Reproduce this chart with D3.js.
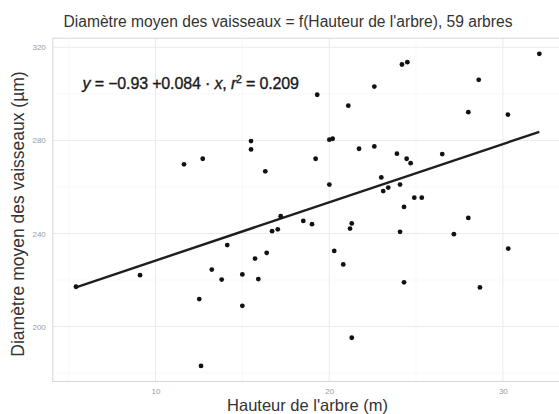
<!DOCTYPE html>
<html><head><meta charset="utf-8">
<script src="https://cdn.jsdelivr.net/npm/d3@7"></script>
<style>body{margin:0;background:#fff;font-family:"Liberation Sans",Arial,sans-serif}</style>
</head><body>
<svg id="chart" width="559" height="414"></svg>
<script>
const hauteur = [11.64,12.72,15.50,15.50,16.32,19.31,21.10,22.60,24.19,24.50,28.61,32.10,28.01,30.29,20.01,20.20,19.22,21.72,22.60,23.90,24.46,24.69,26.51,23.00,20.01,24.08,23.40,23.11,24.90,25.33,24.31,18.51,19.01,21.30,21.20,24.08,27.18,28.01,20.29,20.81,30.31,24.31,28.68,21.30,5.42,9.11,12.52,13.24,13.81,14.13,15.00,15.00,15.73,15.92,16.40,16.71,17.04,17.21,12.62];
const diametre = [269.7,272.1,279.7,276.1,266.7,299.6,294.9,303.1,312.6,313.6,306.0,317.2,292.1,291.1,280.3,280.7,272.1,276.4,277.4,274.3,272.1,270.2,274.1,264.1,261.0,261.0,259.7,258.2,255.4,255.4,251.4,245.4,244.0,244.3,242.1,240.7,239.7,246.7,232.5,226.7,233.5,219.0,216.8,195.2,217.1,222.1,211.8,224.5,220.2,235.0,222.4,208.9,229.2,220.4,231.7,241.0,241.8,247.4,183.1];
const fitCoef = [203.3, 2.504]; // intercept, slope (µm, µm/m)
const xTicks = [10, 20, 30];
const yTicks = [200, 240, 280, 320];
const titleText = "Diamètre moyen des vaisseaux = f(Hauteur de l'arbre), 59 arbres";
const xLabel = "Hauteur de l'arbre (m)";
const yLabel = "Diamètre moyen des vaisseaux (µm)";

const svg = d3.select("#chart");
const P = {l:52.8, r:562.5, t:38.2, b:381.5};
const xe = d3.extent(hauteur), ye = d3.extent(diametre);
const xp = (xe[1]-xe[0])*0.05, yp = (ye[1]-ye[0])*0.05;
const x = d3.scaleLinear().domain([xe[0]-xp, xe[1]+xp]).range([P.l, P.r]);
const y = d3.scaleLinear().domain([ye[0]-yp, ye[1]+yp]).range([P.b, P.t]);

// minor grid
const xMinor = [5,15,25,35], yMinor = [180,220,260,300];
const g = svg.append("g");
g.selectAll(".xm").data(xMinor).join("line").attr("x1",d=>x(d)).attr("x2",d=>x(d)).attr("y1",P.t).attr("y2",P.b).attr("stroke","#f3f3f3").attr("stroke-width",0.6);
g.selectAll(".ym").data(yMinor).join("line").attr("y1",d=>y(d)).attr("y2",d=>y(d)).attr("x1",P.l).attr("x2",P.r).attr("stroke","#f3f3f3").attr("stroke-width",0.6);
g.selectAll(".xM").data(xTicks).join("line").attr("x1",d=>x(d)).attr("x2",d=>x(d)).attr("y1",P.t).attr("y2",P.b).attr("stroke","#ebebeb").attr("stroke-width",1);
g.selectAll(".yM").data(yTicks).join("line").attr("y1",d=>y(d)).attr("y2",d=>y(d)).attr("x1",P.l).attr("x2",P.r).attr("stroke","#ebebeb").attr("stroke-width",1);
svg.append("rect").attr("x",P.l).attr("y",P.t).attr("width",P.r-P.l).attr("height",P.b-P.t).attr("fill","none").attr("stroke","#d6d6d6").attr("stroke-width",1);

// axes
const xAxis = d3.axisBottom(x).tickValues(xTicks).tickSize(0).tickPadding(7);
const yAxis = d3.axisLeft(y).tickValues(yTicks).tickSize(0).tickPadding(7);
const ga = svg.append("g").attr("transform",`translate(0,${P.b})`).call(xAxis);
const gy = svg.append("g").attr("transform",`translate(${P.l},0)`).call(yAxis);
[ga,gy].forEach(a=>{a.select(".domain").remove();a.selectAll("text").attr("fill","#9a9a9a").attr("font-size",8).attr("font-family","Liberation Sans, Arial, sans-serif");});

// fit line
const fx = xe;
svg.append("line").attr("x1",x(fx[0])).attr("y1",y(fitCoef[0]+fitCoef[1]*fx[0]))
  .attr("x2",x(fx[1])).attr("y2",y(fitCoef[0]+fitCoef[1]*fx[1]))
  .attr("stroke","#1e1e1e").attr("stroke-width",2.4);

// points
svg.append("g").selectAll("circle").data(hauteur.map((h,i)=>[h,diametre[i]])).join("circle")
  .attr("cx",d=>x(d[0])).attr("cy",d=>y(d[1])).attr("r",2.4).attr("fill","#111");

// equation
const eq = svg.append("text").attr("x",82.5).attr("y",89).attr("font-size",16).attr("fill","#1a1a1a")
  .attr("stroke","#1a1a1a").attr("stroke-width",0.35).attr("letter-spacing",-0.15);
eq.append("tspan").attr("font-style","italic").text("y");
eq.append("tspan").text(" = −0.93 +0.084 · ");
eq.append("tspan").attr("font-style","italic").text("x");
eq.append("tspan").text(",  ");
eq.append("tspan").attr("font-style","italic").text("r");
eq.append("tspan").attr("font-size",10.5).attr("dy",-6.5).text("2");
eq.append("tspan").attr("dy",6.5).text(" = 0.209");

// titles
svg.append("text").attr("x",288).attr("y",27).attr("text-anchor","middle").attr("font-size",15.6).attr("fill","#333").text(titleText);
svg.append("text").attr("x",307.5).attr("y",411).attr("text-anchor","middle").attr("font-size",16.5).attr("fill","#333").text(xLabel);
svg.append("text").attr("transform","translate(24,214) rotate(-90)").attr("text-anchor","middle").attr("font-size",17.5).attr("fill","#333").text(yLabel);
</script>
</body></html>
